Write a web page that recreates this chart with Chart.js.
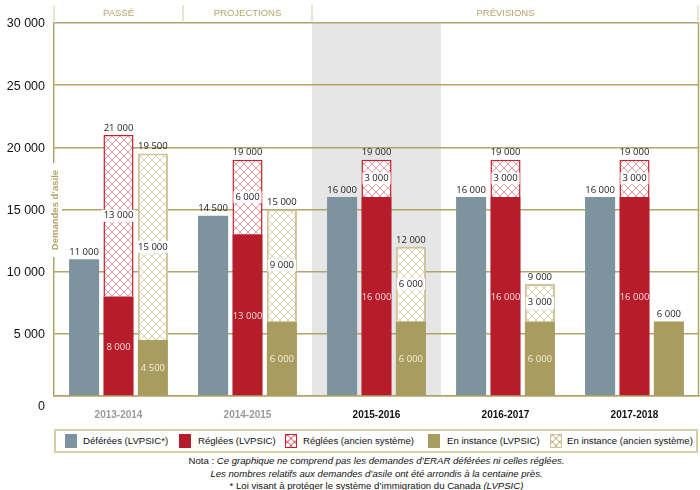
<!DOCTYPE html>
<html>
<head>
<meta charset="utf-8">
<script src="https://cdn.jsdelivr.net/npm/chart.js@4.4.0/dist/chart.umd.min.js"></script>
<style>
  body { margin: 0; background: #fff; font-family: "Liberation Sans", Arial, sans-serif; }
  #wrap { position: relative; width: 700px; height: 490px; overflow: hidden; }
  #box { position: absolute; left: 0; top: 0; width: 700px; height: 420px; }
  #legend { position: absolute; left: 54px; top: 429px; width: 640px; height: 20px;
            border: 2px solid #d6cda9; font-size: 9.6px; color: #111; }
  #legend .sw { position: absolute; top: 3px; width: 12px; height: 14px; box-sizing: border-box; }
  #legend .tx { position: absolute; top: 4px; white-space: nowrap; }
  #notes { position: absolute; left: 54px; top: 455px; width: 645px; text-align: center;
           font-size: 9.6px; line-height: 12.5px; color: #111; }
  .hr { border: 1px solid #c8202f;
        background: repeating-linear-gradient(45deg, #fff 0 4px, #e79ca3 4px 5px),
                    repeating-linear-gradient(-45deg, #fff 0 4px, #e79ca3 4px 5px);
        background-blend-mode: multiply; }
  .hg { border: 1px solid #cfc398;
        background: repeating-linear-gradient(45deg, #fff 0 4px, #dcd3b3 4px 5px),
                    repeating-linear-gradient(-45deg, #fff 0 4px, #dcd3b3 4px 5px);
        background-blend-mode: multiply; }
</style>
</head>
<body>
<div id="wrap">
  <div id="box"><canvas id="myChart"></canvas></div>
  <div id="legend">
    <div class="sw" style="left:9px;background:#7d949e"></div><div class="tx" style="left:27px">Déférées (LVPSIC*)</div>
    <div class="sw" style="left:123px;background:#b71c2b"></div><div class="tx" style="left:142px">Réglées (LVPSIC)</div>
    <div class="sw hr" style="left:229px"></div><div class="tx" style="left:247px">Réglées (ancien système)</div>
    <div class="sw" style="left:372px;background:#a89c5e"></div><div class="tx" style="left:391px">En instance (LVPSIC)</div>
    <div class="sw hg" style="left:494px"></div><div class="tx" style="left:511px">En instance (ancien système)</div>
  </div>
  <div id="notes">
    Nota : <i>Ce graphique ne comprend pas les demandes d’ERAR déférées ni celles réglées.</i><br>
    <i>Les nombres relatifs aux demandes d’asile ont été arrondis à la centaine près.</i><br>
    * Loi visant à protéger le système d’immigration du Canada <i>(LVPSIC)</i>
  </div>
</div>
<script>
const years = ['2013-2014', '2014-2015', '2015-2016', '2016-2017', '2017-2018'];
const periods = ['PASSÉ', 'PROJECTIONS', 'PRÉVISIONS'];
const deferees = [11000, 14500, 16000, 16000, 16000];
const regleesLvpsic = [8000, 13000, 16000, 16000, 16000];
const regleesAncien = [13000, 6000, 3000, 3000, 3000];
const instanceLvpsic = [4500, 6000, 6000, 6000, 6000];
const instanceAncien = [15000, 9000, 6000, 3000, 0];
const yTicks = [0, 5000, 10000, 15000, 20000, 25000, 30000];

const GOLD = '#b3a369';

function hatch(line) {
  const c = document.createElement('canvas');
  c.width = 8; c.height = 8;
  const g = c.getContext('2d');
  g.fillStyle = '#fff';
  g.fillRect(0, 0, 8, 8);
  g.strokeStyle = line;
  g.lineWidth = 1;
  g.beginPath();
  g.moveTo(0, 0); g.lineTo(8, 8);
  g.moveTo(8, 0); g.lineTo(0, 8);
  g.stroke();
  return g.createPattern(c, 'repeat');
}

function fmt(v) {
  return String(v).replace(/\B(?=(\d{3})+(?!\d))/g, ' ');
}

const labelsPlugin = {
  id: 'labels',
  beforeDraw(chart) {
    const { ctx, chartArea } = chart;
    const x = chart.scales.x;
    const half = (x.getPixelForValue(1) - x.getPixelForValue(0)) / 2;
    ctx.save();
    ctx.fillStyle = '#e6e6e6';
    ctx.fillRect(x.getPixelForValue(2) - half, chartArea.top - 1, half * 2, chartArea.bottom - chartArea.top + 1);
    ctx.restore();
  },
  afterDatasetsDraw(chart) {
    const { ctx } = chart;
    ctx.save();
    ctx.font = "9.5px 'Open Sans', sans-serif";
    ctx.textAlign = 'center';
    ctx.textBaseline = 'middle';
    chart.data.datasets.forEach((ds, di) => {
      const meta = chart.getDatasetMeta(di);
      meta.data.forEach((bar, i) => {
        const v = ds.data[i];
        if (!v) return;
        const mid = (bar.y + bar.base) / 2;
        if (ds.kind === 'single') {
          ctx.fillStyle = '#222';
          ctx.fillText(fmt(v), bar.x, bar.y - 7);
        } else if (ds.kind === 'solid') {
          const top = chart.data.datasets[di + 1].data[i];
          if (top) {
            ctx.fillStyle = ds.textColor;
            ctx.fillText(fmt(v), bar.x, mid + 1);
          } else {
            ctx.fillStyle = '#222';
            ctx.fillText(fmt(v), bar.x, bar.y - 7);
          }
        } else if (ds.kind === 'hatch') {
          const w = ctx.measureText(fmt(v)).width;
          ctx.fillStyle = '#fff';
          ctx.fillRect(bar.x - w / 2 - 2, mid - 6, w + 4, 12);
          ctx.fillStyle = '#222';
          ctx.fillText(fmt(v), bar.x, mid);
          const total = v + chart.data.datasets[di - 1].data[i];
          ctx.fillText(fmt(total), bar.x, bar.y - 7);
        }
      });
    });
    ctx.restore();
  },
  afterDraw(chart) {
    const { ctx, chartArea } = chart;
    const x = chart.scales.x, y = chart.scales.y;
    const half = (x.getPixelForValue(1) - x.getPixelForValue(0)) / 2;
    ctx.save();
    // right border
    ctx.strokeStyle = GOLD;
    ctx.lineWidth = 1.5;
    ctx.beginPath();
    ctx.moveTo(chartArea.right - 0.5, chartArea.top);
    ctx.lineTo(chartArea.right - 0.5, chartArea.bottom);
    ctx.stroke();
    // y tick labels
    ctx.fillStyle = '#111';
    ctx.font = "12.5px 'Liberation Sans', Arial, sans-serif";
    ctx.textAlign = 'right';
    ctx.textBaseline = 'middle';
    yTicks.forEach(v => {
      ctx.fillText(fmt(v), 45, y.getPixelForValue(v) + (v === 0 ? 11 : 1));
    });
    // y title
    ctx.fillStyle = '#fff';
    ctx.fillRect(chartArea.left - 6, 163, 14, 94);
    ctx.translate(chartArea.left + 1.5, 210);
    ctx.rotate(-Math.PI / 2);
    ctx.fillStyle = '#b3a369';
    ctx.font = "bold 9.5px 'Liberation Sans', Arial, sans-serif";
    ctx.textAlign = 'center';
    ctx.fillText('Demandes d’asile', 0, 0);
    ctx.setTransform(1, 0, 0, 1, 0, 0);
    ctx.restore();
    // header
    ctx.save();
    const seps = [chartArea.left, x.getPixelForValue(0) + half, x.getPixelForValue(1) + half, chartArea.right - 1];
    ctx.strokeStyle = '#e2dcc4';
    ctx.lineWidth = 1.5;
    seps.forEach(sx => {
      ctx.beginPath();
      ctx.moveTo(sx, 5);
      ctx.lineTo(sx, 21);
      ctx.stroke();
    });
    ctx.fillStyle = '#b5a66a';
    ctx.font = "9.5px 'Liberation Sans', Arial, sans-serif";
    ctx.textAlign = 'center';
    ctx.textBaseline = 'middle';
    ctx.fillText(periods[0], x.getPixelForValue(0), 13);
    ctx.fillText(periods[1], x.getPixelForValue(1), 13);
    ctx.fillText(periods[2], x.getPixelForValue(3), 13);
    ctx.restore();
  }
};

Chart.defaults.font.family = "'Liberation Sans', Arial, sans-serif";
Chart.defaults.animation = false;

const ctx = document.getElementById('myChart').getContext('2d');
new Chart(ctx, {
  type: 'bar',
  data: {
    labels: years,
    datasets: [
      { label: 'Déférées (LVPSIC*)', data: deferees, stack: 'a', kind: 'single',
        backgroundColor: '#7d949e' },
      { label: 'Réglées (LVPSIC)', data: regleesLvpsic, stack: 'b', kind: 'solid', textColor: '#f6dcde',
        backgroundColor: '#b71c2b' },
      { label: 'Réglées (ancien système)', data: regleesAncien, stack: 'b', kind: 'hatch',
        backgroundColor: hatch('#e59aa1'), borderColor: '#c8202f', borderWidth: 1.5 },
      { label: 'En instance (LVPSIC)', data: instanceLvpsic, stack: 'c', kind: 'solid', textColor: '#f4efe0',
        backgroundColor: '#a89c5e' },
      { label: 'En instance (ancien système)', data: instanceAncien, stack: 'c', kind: 'hatch',
        backgroundColor: hatch('#dad1b0'), borderColor: '#cfc398', borderWidth: 2 }
    ]
  },
  options: {
    responsive: true,
    maintainAspectRatio: false,
    categoryPercentage: 0.8,
    barPercentage: 0.875,
    layout: { padding: { top: 23, right: 1, left: 0, bottom: 0 } },
    plugins: { legend: { display: false }, tooltip: { enabled: false } },
    scales: {
      x: {
        stacked: true,
        grid: { display: false },
        border: { display: true, color: GOLD, width: 1.5 },
        ticks: {
          padding: 5,
          font: { size: 10, weight: 'bold' },
          color: c => (c.index < 2 ? '#9a9a9a' : '#111')
        },
        afterFit: s => { s.height = 24; }
      },
      y: {
        stacked: true,
        min: 0,
        max: 30000,
        grid: { color: GOLD, lineWidth: 1.5, drawTicks: false },
        border: { display: true, color: GOLD, width: 1.5 },
        ticks: { stepSize: 5000, display: false },
        afterFit: s => { s.width = 54; }
      }
    }
  },
  plugins: [labelsPlugin]
});
</script>
</body>
</html>
